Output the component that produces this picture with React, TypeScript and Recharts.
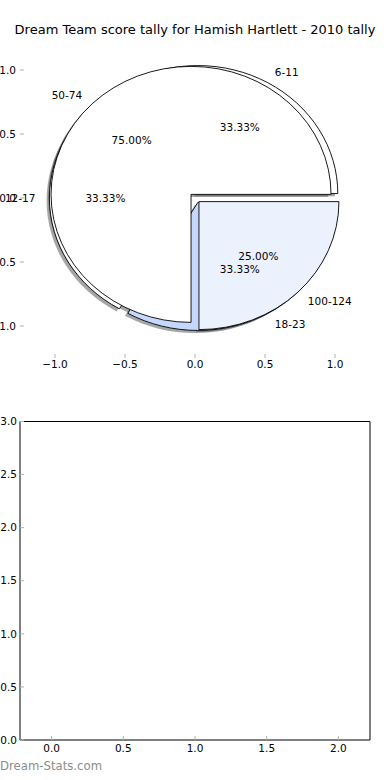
import React from 'react';
import { PieChart, Pie, Cell, ScatterChart, Scatter, XAxis, YAxis } from 'recharts';

const TITLE = 'Dream Team score tally for Hamish Hartlett - 2010 tally';

// first pie (drawn underneath)
const innerNames = ['6-11', '12-17', '18-23'];
const innerValues = [1, 1, 1];
const innerColors = ['#ffffff', '#ffffff', '#c4d8fe'];

// second pie (drawn on top)
const outerNames = ['50-74', '100-124'];
const outerValues = [3, 1];
const outerColors = ['#ffffff', '#ebf1fd'];

const pieTicks = [-1, -0.5, 0, 0.5, 1];
const lowerXTicks = [0, 0.5, 1, 1.5, 2];
const lowerYTicks = [0, 0.5, 1, 1.5, 2, 2.5, 3];

const innerData = innerNames.map((name, i) => ({ name, value: innerValues[i] }));
const outerData = outerNames.map((name, i) => ({ name, value: outerValues[i] }));

const FONT = '"DejaVu Sans", sans-serif';
const RAD = Math.PI / 180;
const RY = 128 / 140; // axes are not square, so the pie is an ellipse
const EXPLODE = 0.04;
const TICK = { fontSize: 10.5, fill: '#000', fontFamily: FONT };
const TICK_LINE = { stroke: '#b0b0b0' };

const fmt = (v: number) => v.toFixed(1).replace('-', '\u2212');

const wedgePath = (cx: number, cy: number, r: number, a0: number, a1: number) => {
  const ry = r * RY;
  const mid = (a0 + a1) / 2;
  const ox = cx + EXPLODE * r * Math.cos(mid * RAD);
  const oy = cy - EXPLODE * ry * Math.sin(mid * RAD);
  const x0 = ox + r * Math.cos(a0 * RAD);
  const y0 = oy - ry * Math.sin(a0 * RAD);
  const x1 = ox + r * Math.cos(a1 * RAD);
  const y1 = oy - ry * Math.sin(a1 * RAD);
  const large = Math.abs(a1 - a0) > 180 ? 1 : 0;
  const sweep = a1 > a0 ? 0 : 1;
  return `M${ox},${oy} L${x0},${y0} A${r},${ry} 0 ${large} ${sweep} ${x1},${y1} Z`;
};

const Wedge = (p: any) => (
  <path
    d={wedgePath(p.cx, p.cy, p.outerRadius, p.startAngle, p.endAngle)}
    fill={p.fill}
    stroke="#000"
    strokeWidth={0.9}
  />
);

const ShadowWedge = (p: any) => (
  <path
    d={wedgePath(p.cx - 2.8, p.cy + 2.56, p.outerRadius, p.startAngle, p.endAngle)}
    fill="#4d4d4d"
    fillOpacity={0.5}
  />
);

const Empty = () => <g />;

const renderLabel = (p: any) => {
  const r = p.outerRadius;
  const ry = r * RY;
  const c = Math.cos(p.midAngle * RAD);
  const s = Math.sin(p.midAngle * RAD);
  const ox = p.cx + EXPLODE * r * c;
  const oy = p.cy - EXPLODE * ry * s;
  return (
    <g fontFamily={FONT} fontSize={10.5} fill="#000">
      <text x={ox + 1.1 * r * c} y={oy - 1.1 * ry * s} textAnchor={c > 0 ? 'start' : 'end'} dominantBaseline="central">
        {p.name}
      </text>
      <text x={ox + 0.6 * r * c} y={oy - 0.6 * ry * s} textAnchor="middle" dominantBaseline="central">
        {(p.percent * 100).toFixed(2)}%
      </text>
    </g>
  );
};

const pieCommon = {
  cx: 195,
  cy: 198,
  outerRadius: 140,
  dataKey: 'value',
  nameKey: 'name',
  startAngle: 0,
  endAngle: 360,
  isAnimationActive: false,
  labelLine: false,
};

export default function App() {
  return (
    <div style={{ position: 'absolute', left: 0, top: 0, width: 390, height: 780, background: '#fff', fontFamily: FONT }}>
      <div style={{ position: 'absolute', left: 0, top: 23, width: 390, textAlign: 'center', fontSize: 13, lineHeight: '13px' }}>
        {TITLE}
      </div>

      <div style={{ position: 'absolute', left: 0, top: 0 }}>
        <ScatterChart width={390} height={400} margin={{ top: 37, right: 19, bottom: 41, left: 19 }}>
          <XAxis xAxisId="b" type="number" dataKey="x" domain={[-1.25, 1.25]} ticks={pieTicks} allowDataOverflow
            height={1} axisLine={false} tickLine={TICK_LINE} tickSize={-4} tickMargin={7} tick={TICK} tickFormatter={fmt} />
          <XAxis xAxisId="t" orientation="top" type="number" dataKey="x" domain={[-1.25, 1.25]} ticks={pieTicks} allowDataOverflow
            height={1} axisLine={false} tickLine={TICK_LINE} tickSize={-4} tick={false} />
          <YAxis yAxisId="l" type="number" dataKey="y" domain={[-1.25, 1.25]} ticks={pieTicks} allowDataOverflow
            width={1} axisLine={false} tickLine={TICK_LINE} tickSize={-4} tickMargin={8} tick={TICK} tickFormatter={fmt} />
          <YAxis yAxisId="r" orientation="right" type="number" dataKey="y" domain={[-1.25, 1.25]} ticks={pieTicks} allowDataOverflow
            width={1} axisLine={false} tickLine={TICK_LINE} tickSize={-4} tick={false} />
        </ScatterChart>
      </div>

      <div style={{ position: 'absolute', left: 0, top: 0 }}>
        <PieChart width={390} height={400} margin={{ top: 0, right: 0, bottom: 0, left: 0 }}>
          <Pie {...pieCommon} data={innerData} shape={ShadowWedge} label={false} />
          <Pie {...pieCommon} data={outerData} shape={ShadowWedge} label={false} />
          <Pie {...pieCommon} data={innerData} shape={Wedge} label={false}>
            {innerData.map((d, i) => <Cell key={d.name} fill={innerColors[i]} />)}
          </Pie>
          <Pie {...pieCommon} data={outerData} shape={Wedge} label={false}>
            {outerData.map((d, i) => <Cell key={d.name} fill={outerColors[i]} />)}
          </Pie>
          <Pie {...pieCommon} data={innerData} shape={Empty} label={renderLabel} />
          <Pie {...pieCommon} data={outerData} shape={Empty} label={renderLabel} />
        </PieChart>
      </div>

      <div style={{ position: 'absolute', left: 0, top: 400 }}>
        <ScatterChart width={390} height={380} margin={{ top: 20.5, right: 19, bottom: 39, left: 19 }}>
          <XAxis xAxisId="b" type="number" dataKey="x" domain={[-0.22, 2.22]} ticks={lowerXTicks} allowDataOverflow
            height={1} axisLine={{ stroke: '#000' }} tickLine={TICK_LINE} tickSize={-4} tickMargin={9} tick={TICK} tickFormatter={fmt} />
          <XAxis xAxisId="t" orientation="top" type="number" dataKey="x" domain={[-0.22, 2.22]} ticks={lowerXTicks} allowDataOverflow
            height={1} axisLine={{ stroke: '#000' }} tickLine={TICK_LINE} tickSize={-4} tick={false} />
          <YAxis yAxisId="l" type="number" dataKey="y" domain={[0, 3]} ticks={lowerYTicks} allowDataOverflow
            width={1} axisLine={{ stroke: '#000' }} tickLine={TICK_LINE} tickSize={-4} tickMargin={7} tick={TICK} tickFormatter={fmt} />
          <YAxis yAxisId="r" orientation="right" type="number" dataKey="y" domain={[0, 3]} ticks={lowerYTicks} allowDataOverflow
            width={1} axisLine={{ stroke: '#000' }} tickLine={TICK_LINE} tickSize={-4} tick={false} />
          <Scatter xAxisId="b" yAxisId="l" data={[]} isAnimationActive={false} />
        </ScatterChart>
      </div>

      <div style={{ position: 'absolute', left: 0, top: 760, fontSize: 11.7, lineHeight: '12px', color: '#8c8c8c' }}>
        Dream-Stats.com
      </div>
    </div>
  );
}
